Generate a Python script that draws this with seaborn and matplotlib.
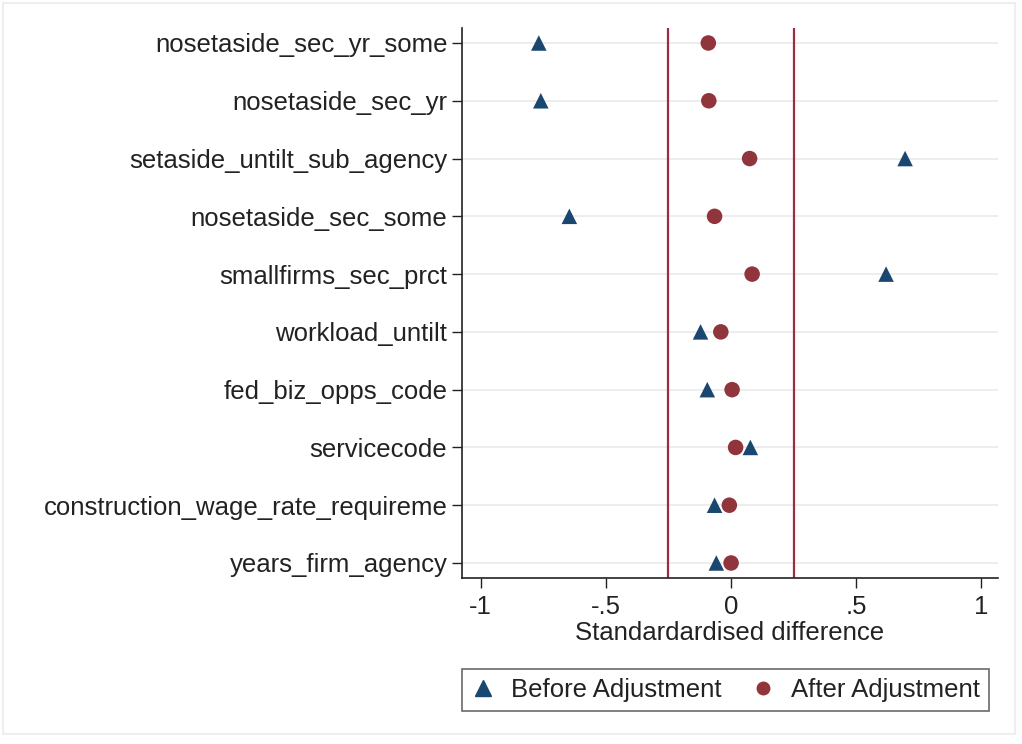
import seaborn as sns
import matplotlib.pyplot as plt
import matplotlib.patches as mpatches
import pandas as pd

# Standardised differences before / after adjustment
variables = ["nosetaside_sec_yr_some", "nosetaside_sec_yr", "setaside_untilt_sub_agency",
             "nosetaside_sec_some", "smallfirms_sec_prct", "workload_untilt",
             "fed_biz_opps_code", "servicecode", "construction_wage_rate_requireme",
             "years_firm_agency"]
before = [-0.768, -0.760, 0.695, -0.646, 0.619, -0.122, -0.095, 0.077, -0.066, -0.059]
after = [-0.091, -0.089, 0.074, -0.066, 0.084, -0.041, 0.004, 0.018, -0.007, 0.000]
xticks = [-1, -0.5, 0, 0.5, 1]
xticklabels = ["-1", "-.5", "0", ".5", "1"]
threshold = 0.25

df = pd.DataFrame({
    "variable": variables * 2,
    "diff": before + after,
    "group": ["Before Adjustment"] * len(variables) + ["After Adjustment"] * len(variables),
})

navy = "#1a476f"
maroon = "#90353b"
line_col = "#9b2c42"
txt = "#222222"

sns.set_style("white")
plt.rcParams["font.family"] = ["Liberation Sans", "DejaVu Sans"]

fig = plt.figure(figsize=(10.22, 7.44), dpi=100)
ax = fig.add_axes([0.452, 0.2231, 0.5245, 0.7393])

ax.axvline(-threshold, color=line_col, lw=1.6, zorder=1)
ax.axvline(threshold, color=line_col, lw=1.6, zorder=1)

sns.scatterplot(data=df, x="diff", y="variable", hue="group", style="group",
                palette={"Before Adjustment": navy, "After Adjustment": maroon},
                markers={"Before Adjustment": "^", "After Adjustment": "o"},
                s=125, linewidth=0, ax=ax, legend=False, zorder=3)

ax.set_xlim(-1.075, 1.066)
ax.set_ylim(len(variables) - 1 + 0.26, -0.26)
ax.set_xticks(xticks)
ax.set_xticklabels(xticklabels)
ax.set_yticks(range(len(variables)))
ax.set_yticklabels(variables)
ax.grid(axis="y", color="#ececec", lw=1.3, zorder=0)
ax.grid(axis="x", visible=False)

for side in ["top", "right"]:
    ax.spines[side].set_visible(False)
for side in ["left", "bottom"]:
    ax.spines[side].set_color(txt)
    ax.spines[side].set_linewidth(1.2)

ax.tick_params(axis="both", which="both", direction="out", length=7, width=1,
               color=txt, labelcolor=txt, labelsize=18.5, pad=5, left=True, bottom=True)
ax.tick_params(axis="y", pad=3.5)
ax.set_xlabel("Standardardised difference", fontsize=18.5, color=txt, labelpad=2)
ax.set_ylabel("")

handles = [
    plt.Line2D([], [], marker="^", ls="", color=navy, markersize=11, label="Before Adjustment"),
    plt.Line2D([], [], marker="o", ls="", color=maroon, markersize=9, label="After Adjustment"),
]
leg = fig.legend(handles=handles, loc="center", bbox_to_anchor=(0.710, 0.0726), ncol=2,
                 fontsize=18.5, frameon=True, fancybox=False, edgecolor="#444444",
                 handlelength=0.9, handletextpad=0.62, columnspacing=1.2,
                 borderpad=0.35, labelcolor=txt)
leg.get_frame().set_linewidth(1.2)

# faint outer frame like the Stata graph region
fig.patches.append(mpatches.Rectangle((0.003, 0.013), 0.990, 0.983, transform=fig.transFigure,
                                      fill=False, edgecolor="#eeeeee", lw=1.5))

fig.savefig("out.png", dpi=100)
